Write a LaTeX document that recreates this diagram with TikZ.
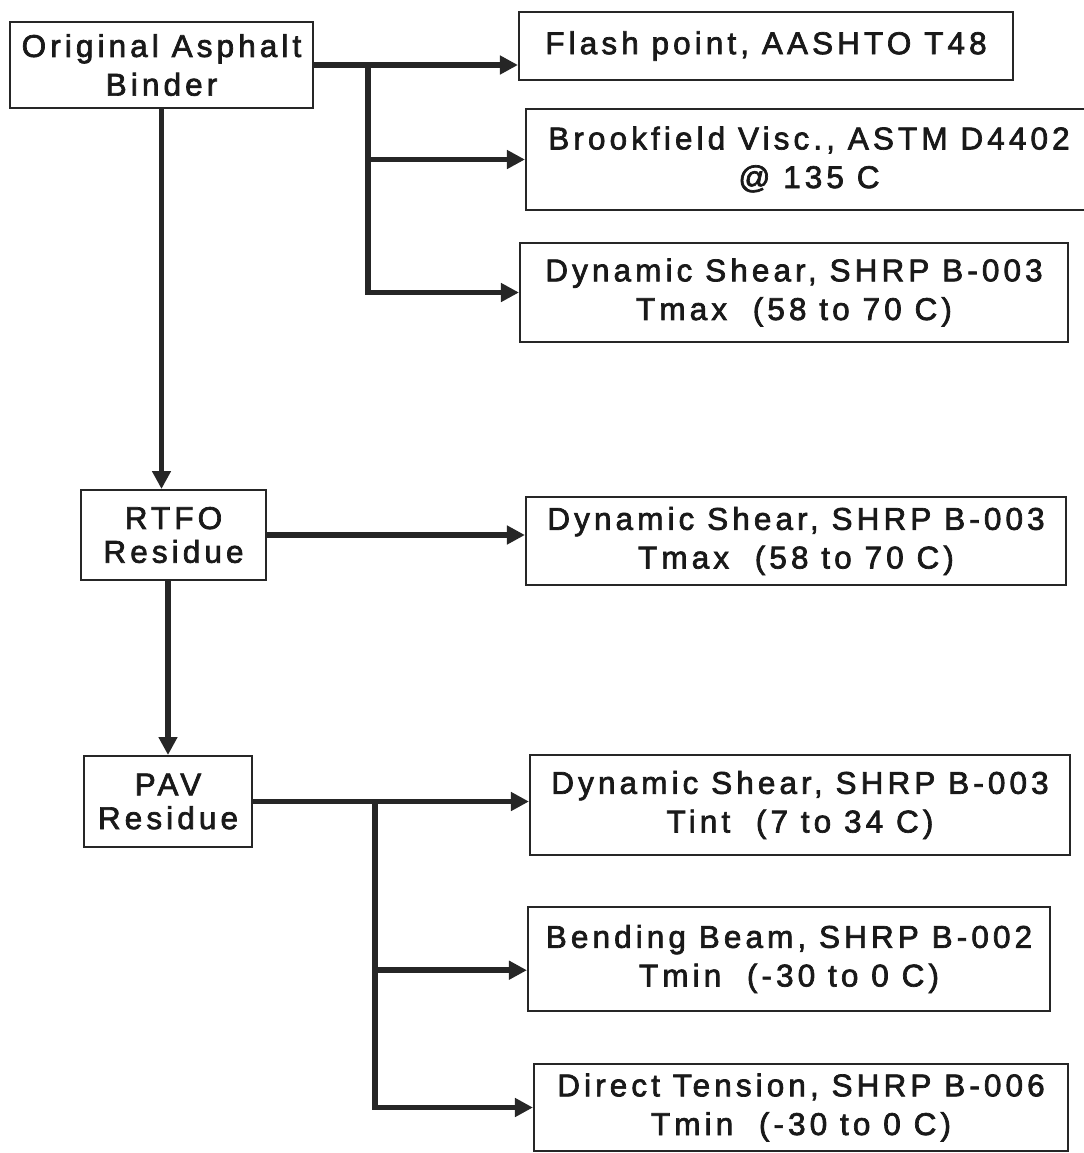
\documentclass[tikz,border=0pt]{standalone}
\usepackage{fontspec}
\setmainfont{Liberation Sans}[LetterSpace=13,FakeBold=2.2]
\usepackage{tikz}
\usetikzlibrary{arrows.meta}

\tikzset{box/.style={draw=black!85, line width=1.4pt, inner sep=0pt, align=center, text=black!90, font=\fontsize{22.4}{27.5}\selectfont},
smallbox/.style={box, font=\fontsize{22.4}{24}\selectfont},
link/.style={draw=black!85, line width=4pt, -{Triangle[length=0.45cm,width=0.45cm]}}}

\begin{document}
\begin{tikzpicture}[x=0.025cm,y=-0.025cm]
\clip (0,0) rectangle (1084,1153);
\node [box, minimum width=7.575cm, minimum height=2.15cm] (orig) at (161.5,65) {Original Asphalt\\Binder};
\node [box, minimum width=12.35cm, minimum height=1.7cm] (flash) at (766,46) {Flash point, AASHTO T48};
\node [box, minimum width=14.15cm, minimum height=2.525cm] (brook) at (809,159.5) {Brookfield Visc., ASTM D4402\\@ 135 C};
\node [box, minimum width=13.7cm, minimum height=2.475cm] (shearA) at (794,292.5) {Dynamic Shear, SHRP B-003\\Tmax~~(58 to 70 C)};

\node [smallbox, minimum width=4.625cm, minimum height=2.25cm] (rtfo) at (173.5,535) {RTFO\\Residue};
\node [box, minimum width=13.5cm, minimum height=2.2cm] (shearB) at (796,541) {Dynamic Shear, SHRP B-003\\Tmax~~(58 to 70 C)};

\node [smallbox, minimum width=4.2cm, minimum height=2.275cm] (pav) at (168,801.5) {PAV\\Residue};
\node [box, minimum width=13.5cm, minimum height=2.5cm] (shearC) at (800,805) {Dynamic Shear, SHRP B-003\\Tint~~(7 to 34 C)};
\node [box, minimum width=13.05cm, minimum height=2.6cm] (beam) at (789,959) {Bending Beam, SHRP B-002\\Tmin~~(-30 to 0 C)};
\node [box, minimum width=13.35cm, minimum height=2.175cm] (tension) at (801,1107.5) {Direct Tension, SHRP B-006\\Tmin~~(-30 to 0 C)};

\path (orig.east) ++(54,0) coordinate (forkA);
\path (pav.east) ++(122,0) coordinate (forkB);

\draw [link] (orig.east) -- (orig.east -| flash.west);
\draw [link] (forkA) |- (brook.west);
\draw [link] (forkA) |- (shearA.west);
\draw [link] (orig.south) -- (orig.south |- rtfo.north);
\draw [link] (rtfo.east) -- (rtfo.east -| shearB.west);
\draw [link] (pav.north |- rtfo.south) -- (pav.north);
\draw [link] (pav.east) -- (pav.east -| shearC.west);
\draw [link] (forkB) |- ([yshift=-0.28cm]beam.west);
\draw [link] (forkB) |- (tension.west);
\end{tikzpicture}
\end{document}
